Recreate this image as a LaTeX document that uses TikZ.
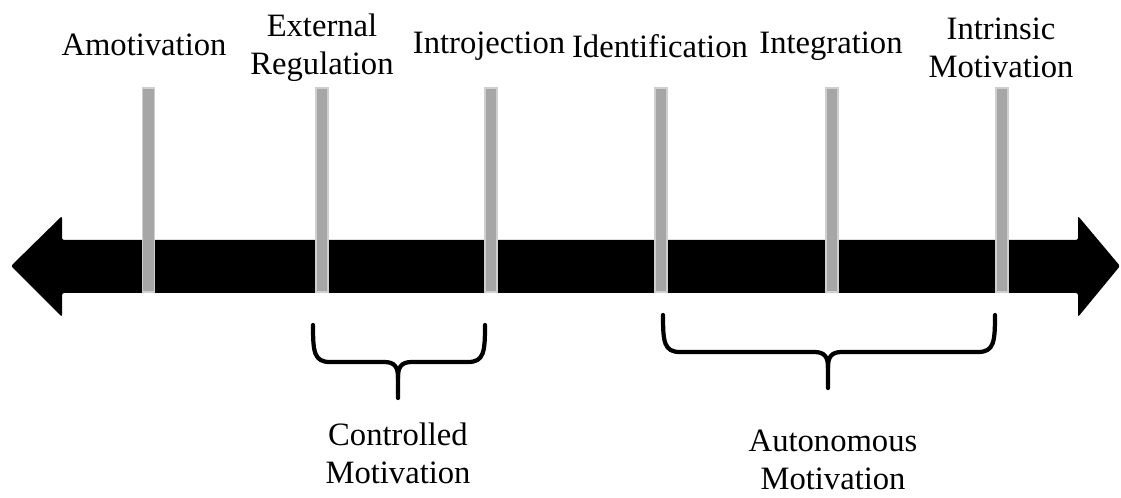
\documentclass[tikz,border=0pt]{standalone}
\usepackage{fontspec}
\setmainfont{Liberation Serif}
\usepackage{tikz}
\definecolor{barfill}{HTML}{A6A6A6}
\definecolor{barline}{HTML}{CFCFCF}
\begin{document}
\begin{tikzpicture}[x=0.025cm, y=-0.025cm,
	tickbar/.style={fill=barfill, draw=barline, line width=0.4mm},
	bracket/.style={line width=3pt, line cap=round, line join=round},
	lbl/.style={align=center, font=\fontsize{23.2}{27}\selectfont, inner sep=0pt}]
			%%%%% START %%%%%
			\useasboundingbox (0, 0) rectangle (1121, 498);
			
			\fill[rounded corners=1.5pt] (11, 266) -- (62, 216) -- (62, 240) -- (1078, 240) -- (1078, 216) -- (1120, 266) -- (1078, 317) -- (1078, 293) -- (62, 293) -- (62, 317) -- cycle;
			
			\draw[tickbar] (142.5, 88) rectangle (154.5, 292);
			\draw[tickbar] (316, 88) rectangle (328, 292);
			\draw[tickbar] (485, 88) rectangle (497, 292);
			\draw[tickbar] (655, 88) rectangle (667, 292);
			\draw[tickbar] (826, 88) rectangle (838, 292);
			\draw[tickbar] (996, 88) rectangle (1008, 292);
			
			\node[lbl] (amot) at (144, 45) {Amotivation};
			\node[lbl] (extreg) at (322, 48) {External\\Regulation};
			\node[lbl] (introj) at (489, 46) {Introjection};
			\node[lbl] (ident) at (660, 46) {Identification};
			\node[lbl] (integ) at (831, 46) {Integration};
			\node[lbl] (intrin) at (1001, 48) {Intrinsic\\Motivation};
			
			\draw[bracket] (313, 325) .. controls (313, 352) and (314, 362) .. (330, 362) -- (384, 362) .. controls (395, 362) and (398, 367) .. (398, 378) -- (398, 398);
			\draw[bracket] (398, 378) .. controls (398, 367) and (401, 362) .. (412, 362) -- (468, 362) .. controls (484, 362) and (485, 352) .. (485, 325);
			
			\draw[bracket] (663, 315) .. controls (663, 342) and (664, 352) .. (680, 352) -- (814, 352) .. controls (825, 352) and (828, 357) .. (828, 368) -- (828, 388);
			\draw[bracket] (828, 368) .. controls (828, 357) and (831, 352) .. (842, 352) -- (978, 352) .. controls (994, 352) and (995, 342) .. (995, 315);
			
			\node[lbl] (ctrl) at (398, 453) {Controlled\\Motivation};
			\node[lbl] (auto) at (833, 460) {Autonomous\\Motivation};
			%%%%% END %%%%%
\end{tikzpicture}
\end{document}
